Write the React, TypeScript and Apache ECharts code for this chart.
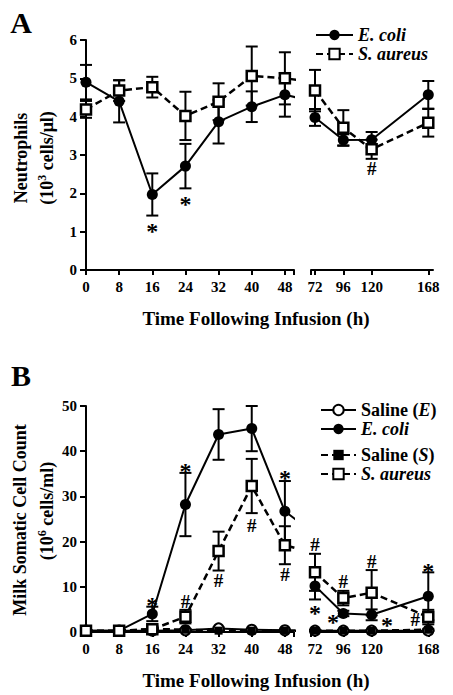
import React, { useEffect, useRef } from 'react';
import * as echarts from 'echarts';

// ---------- data ----------
const hours = [0, 8, 16, 24, 32, 40, 48, 72, 96, 120, 168];
const leftTicks = [0, 8, 16, 24, 32, 40, 48];
const rightTicks = [72, 96, 120, 168];

// Panel A: Neutrophils (10^3 cells/µl)
const neutEcoli = [4.9, 4.4, 1.97, 2.71, 3.87, 4.26, 4.57, 3.98, 3.39, 3.4, 4.57];
const neutEcoliSE = [0.45, 0.55, 0.55, 0.58, 0.57, 0.4, 0.57, 0.22, 0.15, 0.2, 0.36];
const neutSaureus = [4.19, 4.68, 4.77, 4.02, 4.39, 5.06, 5.0, 4.68, 3.71, 3.15, 3.84];
const neutSaureusSE = [0.22, 0.27, 0.27, 0.63, 0.48, 0.77, 0.68, 0.54, 0.46, 0.25, 0.36];

// Panel B: Milk somatic cell count (10^6 cells/ml)
const sccSalineE = [0.3, 0.3, 0.3, 0.4, 0.8, 0.5, 0.4, 0.3, 0.3, 0.3, 0.3];
const sccSalineESE = [0.1, 0.1, 0.1, 0.1, 0.2, 0.1, 0.1, 0.1, 0.1, 0.1, 0.1];
const sccEcoli = [0.3, 0.3, 4.0, 28.2, 43.7, 45.0, 26.7, 10.2, 4.1, 3.8, 7.9];
const sccEcoliSE = [0.1, 0.1, 1.6, 7.0, 5.6, 5.0, 6.7, 3.0, 0.6, 1.2, 5.3];
const sccSalineS = [0.2, 0.2, 0.7, 0.5, 0.3, 0.3, 0.3, 0.3, 0.3, 0.3, 0.5];
const sccSalineSSE = [0.1, 0.1, 0.3, 0.2, 0.1, 0.1, 0.1, 0.1, 0.1, 0.1, 0.2];
const sccSaureus = [0.3, 0.3, 0.6, 3.4, 17.9, 32.3, 19.2, 13.2, 7.5, 8.7, 3.3];
const sccSaureusSE = [0.1, 0.1, 0.8, 1.5, 4.3, 6.0, 4.2, 4.1, 1.6, 5.0, 1.6];

// significance marks [hour, value, mark]
const annotA: [number, number, string][] = [
  [16, 1.12, '*'], [24, 1.83, '*'], [120, 2.65, '#'],
];
const annotB: [number, number, string][] = [
  [16, 6.8, '*'], [24, 36.6, '*'], [32, 50.9, '*'], [40, 51.3, '*'], [48, 34.9, '*'],
  [24, 6.8, '#'], [32, 11.4, '#'], [40, 23.6, '#'], [48, 12.7, '#'],
  [72, 19.4, '#'], [72, 5.0, '*'], [87.3, 3.1, '*'], [96, 11.1, '#'],
  [120, 15.7, '#'], [133, 2.4, '*'], [168, 14.4, '*'], [157, 2.7, '#'],
];

const legendLabels: Record<string, string> = {
  'E. coli': '{i|E. coli}',
  'S. aureus': '{i|S. aureus}',
  'Saline (E)': '{n|Saline (}{i|E}{n|)}',
  'Saline (S)': '{n|Saline (}{i|S}{n|)}',
};

const xTitle = 'Time Following Infusion (h)';

// ---------- styles ----------
const FONT = '"Liberation Serif", "Times New Roman", serif';
const tickLabel = { color: '#000', fontFamily: FONT, fontWeight: 'bold' as const, fontSize: 15 };
const axisLineStyle = { color: '#000', width: 2 };

const styles: Record<string, any> = {
  'E. coli': {
    symbol: 'circle', symbolSize: 11,
    itemStyle: { color: '#000' },
    lineStyle: { color: '#000', width: 2, type: 'solid' },
  },
  'S. aureus': {
    symbol: 'rect', symbolSize: 10,
    itemStyle: { color: '#fff', borderColor: '#000', borderWidth: 2.5 },
    lineStyle: { color: '#000', width: 2.5, type: [7, 4] },
  },
  'Saline (E)': {
    symbol: 'circle', symbolSize: 10,
    itemStyle: { color: '#fff', borderColor: '#000', borderWidth: 2 },
    lineStyle: { color: '#000', width: 2, type: 'solid' },
  },
  'Saline (S)': {
    symbol: 'rect', symbolSize: 8,
    itemStyle: { color: '#000' },
    lineStyle: { color: '#000', width: 2.5, type: [7, 4] },
  },
};

function xAxisLeft(gridIndex: number) {
  return {
    type: 'value', gridIndex, min: 0, max: 50.2,
    axisLine: { show: true, onZero: false, lineStyle: axisLineStyle },
    axisTick: { show: true, customValues: [...leftTicks, 50.2], length: 5, lineStyle: axisLineStyle },
    axisLabel: { ...tickLabel, customValues: leftTicks, margin: 9 },
    splitLine: { show: false },
  };
}
function xAxisRight(gridIndex: number) {
  return {
    type: 'value', gridIndex, min: 68.6, max: 172,
    axisLine: { show: true, onZero: false, lineStyle: axisLineStyle },
    axisTick: { show: true, customValues: [68.6, ...rightTicks], length: 5, lineStyle: axisLineStyle },
    axisLabel: { ...tickLabel, customValues: rightTicks, margin: 9 },
    splitLine: { show: false },
  };
}
function yAxisMain(gridIndex: number, max: number, interval: number) {
  return {
    type: 'value', gridIndex, min: 0, max, interval,
    axisLine: { show: true, onZero: false, lineStyle: axisLineStyle },
    axisTick: { show: true, length: 6, lineStyle: axisLineStyle },
    axisLabel: { ...tickLabel, margin: 9 },
    splitLine: { show: false },
  };
}
function yAxisHidden(gridIndex: number, max: number) {
  return { type: 'value', gridIndex, min: 0, max, show: false, splitLine: { show: false } };
}

function buildGroup(name: string, vals: number[], se: number[], left: number, right: number) {
  const pts = hours.map((h, i) => [h, vals[i], se[i]]);
  const st = styles[name];
  const lineL = {
    type: 'line', name, xAxisIndex: left, yAxisIndex: left, clip: true, z: 4,
    data: pts.filter((p) => p[0] <= 72).map((p) => [p[0], p[1]]),
    ...st,
  };
  const lineR = {
    type: 'line', name, xAxisIndex: right, yAxisIndex: right, clip: true, z: 4,
    data: pts.filter((p) => p[0] >= 72).map((p) => [p[0], p[1]]),
    ...st,
  };
  const err = (axis: number, data: number[][]) => ({
    type: 'custom', xAxisIndex: axis, yAxisIndex: axis, z: 3, silent: true,
    data, encode: { x: 0, y: 1 },
    renderItem: (_p: any, api: any) => {
      const x = api.value(0), v = api.value(1), e = api.value(2);
      const t = api.coord([x, v + e]);
      const b = api.coord([x, v - e]);
      const s = { stroke: '#000', lineWidth: 2 };
      return {
        type: 'group',
        children: [
          { type: 'line', shape: { x1: t[0], y1: t[1], x2: b[0], y2: b[1] }, style: s },
          { type: 'line', shape: { x1: t[0] - 6, y1: t[1], x2: t[0] + 6, y2: t[1] }, style: s },
          { type: 'line', shape: { x1: b[0] - 6, y1: b[1], x2: b[0] + 6, y2: b[1] }, style: s },
        ],
      };
    },
  });
  return [
    err(left, pts.filter((p) => p[0] <= 48)),
    err(right, pts.filter((p) => p[0] >= 72)),
    lineL, lineR,
  ];
}

function annotSeries(arr: [number, number, string][], left: number, right: number) {
  const mk = (axis: number, list: [number, number, string][]) => ({
    type: 'scatter', xAxisIndex: axis, yAxisIndex: axis, z: 6, silent: true,
    symbolSize: 0, itemStyle: { color: '#000', opacity: 1 },
    data: list.map(([x, y, t]) => ({
      value: [x, y],
      label: {
        show: true, position: 'inside', formatter: t, color: '#000', opacity: 1,
        textBorderWidth: 0,
        fontFamily: FONT, fontWeight: 'bold',
        fontSize: t === '*' ? 24 : 19,
        offset: t === '*' ? [0, 4] : [0, 0],
      },
    })),
  });
  return [mk(left, arr.filter((a) => a[0] <= 50)), mk(right, arr.filter((a) => a[0] >= 68))];
}

const legendRich = {
  n: { fontFamily: FONT, fontWeight: 'bold', fontSize: 18, lineHeight: 19, color: '#000' },
  i: { fontFamily: FONT, fontWeight: 'bold', fontStyle: 'italic', fontSize: 18, lineHeight: 19, color: '#000' },
};
function legend(data: string[], left: number, top: number, itemWidth: number) {
  return {
    data, orient: 'vertical', left, top, padding: 0, itemGap: 1,
    itemWidth, itemHeight: 13, selectedMode: false,
    formatter: (n: string) => legendLabels[n],
    textStyle: { fontFamily: FONT, fontSize: 18, fontWeight: 'bold', color: '#000', rich: legendRich },
  };
}

function txt(text: string, x: number, y: number, size: number, rotation = 0, rich?: any) {
  return {
    type: 'text', x, y, rotation, silent: true,
    style: {
      text, fill: '#000', fontFamily: FONT, fontWeight: 'bold', fontSize: size,
      align: 'center', verticalAlign: 'middle', rich,
    },
  };
}
const titleRich = {
  n: { fontFamily: FONT, fontWeight: 'bold', fontSize: 18, lineHeight: 22, color: '#000' },
  s: { fontFamily: FONT, fontWeight: 'bold', fontSize: 12, lineHeight: 12, verticalAlign: 'top', color: '#000' },
};

export default function App() {
  const ref = useRef<HTMLDivElement>(null);
  useEffect(() => {
    document.body.style.margin = '0';
    const chart = echarts.init(ref.current!, null, { renderer: 'svg' });
    const option: any = {
      animation: false,
      backgroundColor: '#fff',
      grid: [
        { left: 86, top: 40, width: 208, height: 230 },
        { left: 311, top: 40, width: 122, height: 230 },
        { left: 86, top: 406, width: 208, height: 226 },
        { left: 311, top: 406, width: 122, height: 226 },
      ],
      xAxis: [xAxisLeft(0), xAxisRight(1), xAxisLeft(2), xAxisRight(3)],
      yAxis: [yAxisMain(0, 6, 1), yAxisHidden(1, 6), yAxisMain(2, 50, 10), yAxisHidden(3, 50)],
      legend: [
        legend(['E. coli', 'S. aureus'], 315, 26, 37),
        legend(['Saline (E)', 'E. coli'], 320, 401, 35),
        legend(['Saline (S)', 'S. aureus'], 320, 446, 35),
      ],
      series: [
        ...buildGroup('E. coli', neutEcoli, neutEcoliSE, 0, 1),
        ...buildGroup('S. aureus', neutSaureus, neutSaureusSE, 0, 1),
        ...buildGroup('Saline (E)', sccSalineE, sccSalineESE, 2, 3),
        ...buildGroup('E. coli', sccEcoli, sccEcoliSE, 2, 3),
        ...buildGroup('Saline (S)', sccSalineS, sccSalineSSE, 2, 3),
        ...buildGroup('S. aureus', sccSaureus, sccSaureusSE, 2, 3),
        ...annotSeries(annotA, 0, 1),
        ...annotSeries(annotB, 2, 3),
      ],
      graphic: [
        txt('A', 21, 22, 30),
        txt('B', 21, 375, 30),
        txt(xTitle, 256, 318, 19),
        txt(xTitle, 256, 680, 19),
        txt('Neutrophils', 21, 158, 18, Math.PI / 2),
        txt('{n|(10}{s|3}{n| cells/μl)}', 47, 158, 18, Math.PI / 2, titleRich),
        txt('Milk Somatic Cell Count', 20, 520, 18, Math.PI / 2),
        txt('{n|(10}{s|6}{n| cells/ml)}', 47, 511, 18, Math.PI / 2, titleRich),
      ],
    };
    chart.setOption(option);
    return () => chart.dispose();
  }, []);
  return <div ref={ref} style={{ width: 453, height: 695 }} />;
}
